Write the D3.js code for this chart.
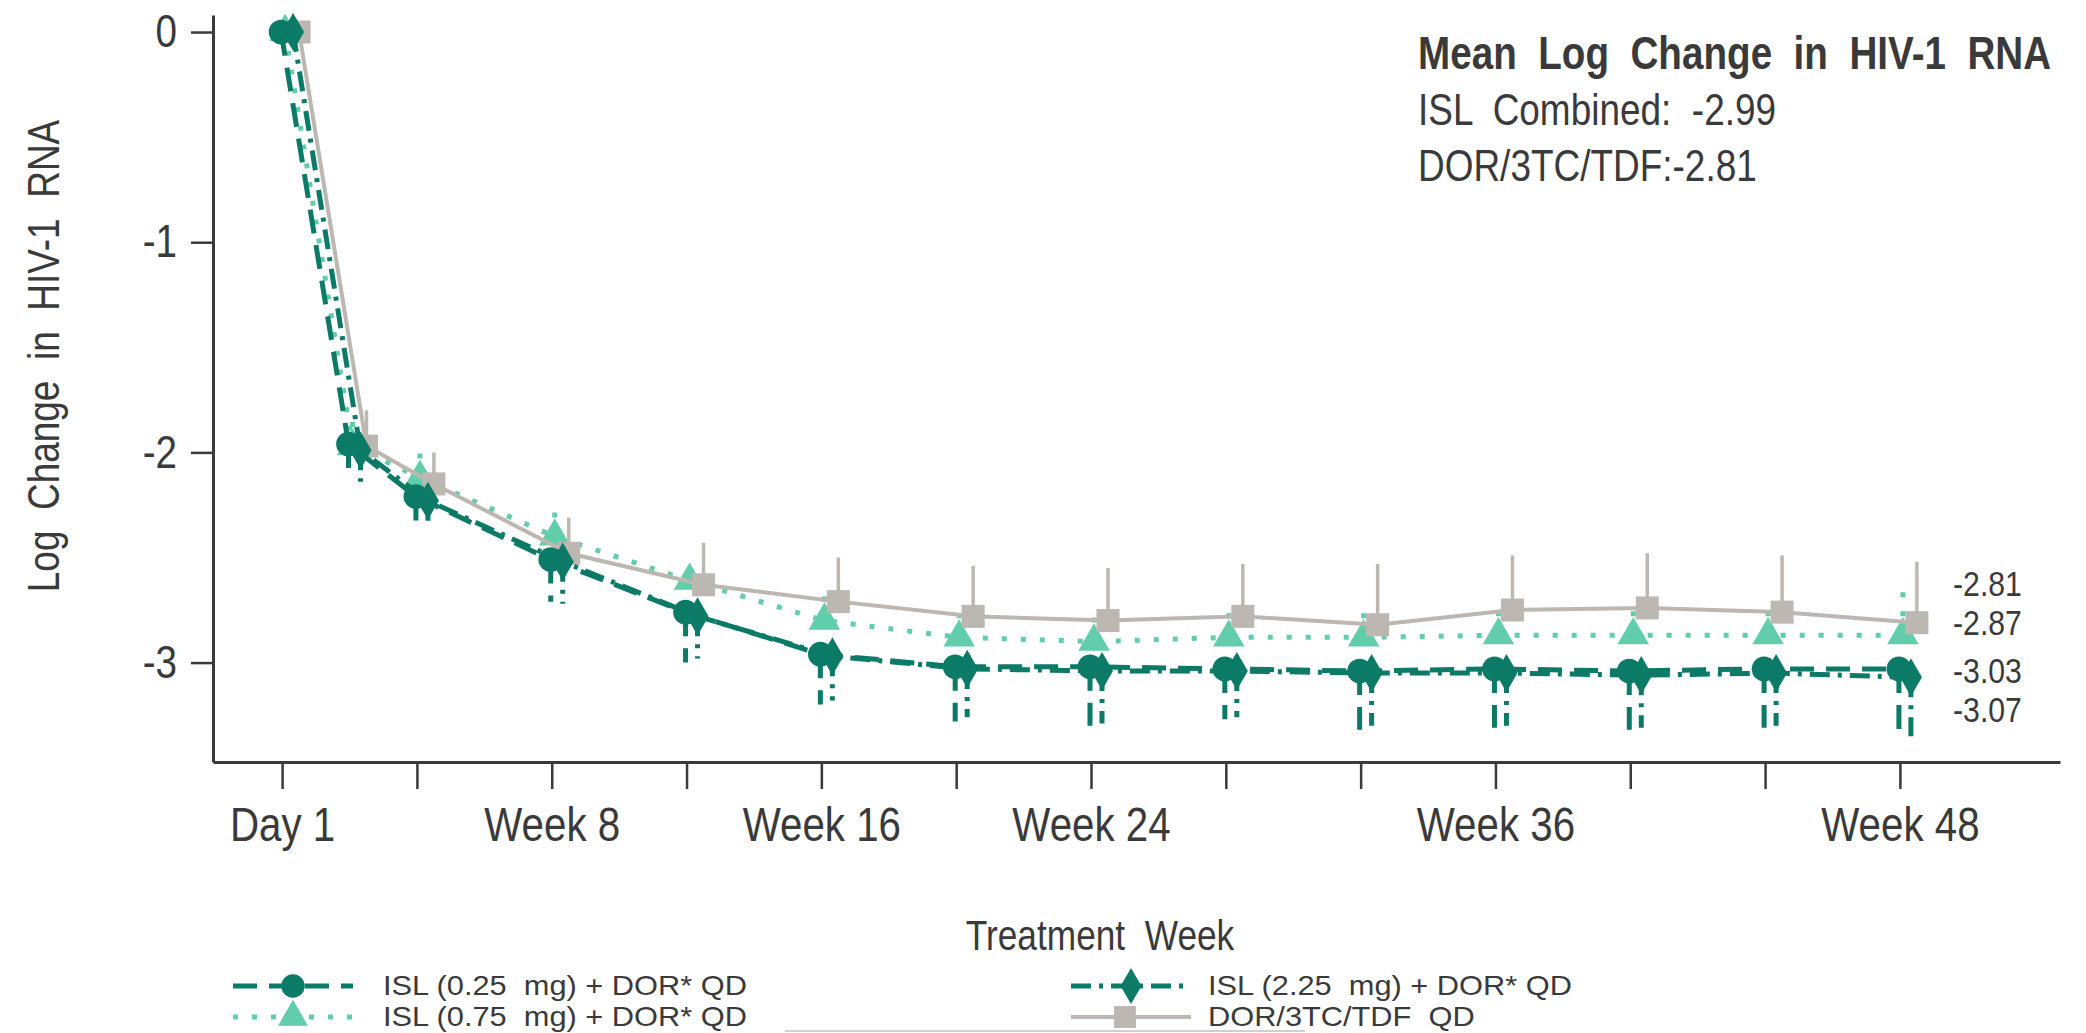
<!DOCTYPE html>
<html><head><meta charset="utf-8">
<script src="https://cdn.jsdelivr.net/npm/d3@7"></script>
<style>
html,body{margin:0;padding:0;background:#fff;}
svg{display:block;}
text{font-family:'Liberation Sans',Arial,sans-serif;fill:#3a3a3a;white-space:pre;}
</style></head><body>
<svg id="chart" width="2086" height="1033"></svg>
<script>
// ---- data ----
const weeks = [0, 2, 4, 8, 12, 16, 20, 24, 28, 32, 36, 40, 44, 48];
const tickWeeks = [0, 4, 8, 12, 16, 20, 24, 28, 32, 36, 40, 44, 48];
const tickLabels = ["Day 1", "", "Week 8", "", "Week 16", "", "Week 24", "", "", "Week 36", "", "", "Week 48"];
const yTicks = [0, -1, -2, -3];

const isl025      = [0, -1.96, -2.21, -2.51, -2.76, -2.96, -3.02, -3.02, -3.03, -3.04, -3.03, -3.04, -3.03, -3.03];
const isl025Lower = [0, -2.12, -2.35, -2.71, -3.00, -3.20, -3.28, -3.30, -3.27, -3.32, -3.31, -3.32, -3.31, -3.33];
const isl225      = [0, -1.99, -2.23, -2.52, -2.78, -2.97, -3.03, -3.04, -3.04, -3.05, -3.05, -3.06, -3.05, -3.07];
const isl225Lower = [0, -2.14, -2.36, -2.72, -2.98, -3.18, -3.26, -3.29, -3.26, -3.30, -3.30, -3.31, -3.30, -3.35];
const isl075      = [0, -1.97, -2.12, -2.40, -2.61, -2.80, -2.88, -2.90, -2.88, -2.88, -2.87, -2.87, -2.87, -2.87];
const isl075Upper = [0, -1.85, -1.98, -2.26, -2.52, -2.62, -2.71, -2.73, -2.71, -2.73, -2.69, -2.69, -2.70, -2.62];
const dor         = [0, -1.97, -2.15, -2.48, -2.63, -2.71, -2.78, -2.80, -2.78, -2.82, -2.75, -2.74, -2.76, -2.81];
const dorUpper    = [0, -1.80, -2.00, -2.31, -2.43, -2.50, -2.54, -2.55, -2.53, -2.53, -2.49, -2.48, -2.49, -2.52];

const seriesNames = ["ISL (0.25  mg) + DOR* QD", "ISL (0.75  mg) + DOR* QD", "ISL (2.25  mg) + DOR* QD", "DOR/3TC/TDF  QD"];
const annotTitle = "Mean  Log  Change  in  HIV-1  RNA";
const annotLines = ["ISL  Combined:  -2.99", "DOR/3TC/TDF:-2.81"];
const xTitle = "Treatment  Week";
const yTitle = "Log  Change  in  HIV-1  RNA";

// ---- styles ----
const DARK = "#0b7a66", LIGHT = "#62cdaa", GRAY = "#bdb7b1";
const series = [
  {key:"isl075", name:seriesNames[1], vals:isl075, bar:isl075Upper, color:LIGHT, dash:"5,14", sym:d3.symbolTriangle, size:430, dodge:3, lw:5},
  {key:"dor",    name:seriesNames[3], vals:dor,    bar:dorUpper,    color:GRAY,  dash:null,   sym:d3.symbolSquare,   size:530, dodge:17, lw:4},
  {key:"isl025", name:seriesNames[0], vals:isl025, bar:isl025Lower, color:DARK,  dash:"24,12", sym:d3.symbolCircle, size:480, dodge:-1, lw:5},
  {key:"isl225", name:seriesNames[2], vals:isl225, bar:isl225Lower, color:DARK,  dash:"20,8,4,8", sym:d3.symbolDiamond, size:420, dodge:11, lw:5}
];

const svg = d3.select("#chart");
const plot = {left:213, right:2060, top:15, bottom:762};
const NARROW = 0.84;

// condensed text helper: horizontal squeeze about the anchor point
function txt(parent, x, y, str, size, extra, sx) {
  return parent.append("text")
    .attr("transform", `translate(${x},${y}) ${extra||""} scale(${sx||NARROW},1)`)
    .attr("font-size", size).text(str);
}

const x = d3.scaleLinear().domain([-2.05, 52.75]).range([plot.left, plot.right]);
const y = d3.scaleLinear().domain([-3.473, 0.081]).range([plot.bottom, plot.top]);

// axes
const xAxis = svg.append("g").attr("transform", `translate(0,${plot.bottom})`)
  .call(d3.axisBottom(x).tickValues(tickWeeks).tickFormat((d,i)=>tickLabels[i]).tickSize(27).tickSizeOuter(0).tickPadding(18));
xAxis.select(".domain").attr("stroke", "#3a3a3a").attr("stroke-width", 3);
xAxis.selectAll(".tick line").attr("stroke", "#3a3a3a").attr("stroke-width", 2.5);
xAxis.selectAll(".tick text").attr("font-size", 48).attr("fill", "#3a3a3a")
  .attr("transform", `scale(${NARROW},1)`);

const yAxis = svg.append("g").attr("transform", `translate(${plot.left},0)`)
  .call(d3.axisLeft(y).tickValues(yTicks).tickFormat(d=>String(d)).tickSize(22).tickSizeOuter(0).tickPadding(14));
yAxis.select(".domain").attr("stroke", "#3a3a3a").attr("stroke-width", 3);
yAxis.selectAll(".tick line").attr("stroke", "#3a3a3a").attr("stroke-width", 2.5);
yAxis.selectAll(".tick text").attr("font-size", 46).attr("fill", "#3a3a3a")
  .attr("x", -36 / NARROW).attr("transform", `scale(${NARROW},1)`);
svg.selectAll("g").attr("font-family", null);

// titles
txt(svg, 1100, 950, xTitle, 42).attr("text-anchor", "middle");
txt(svg, 44, 356, yTitle, 44, "rotate(-90)").attr("text-anchor", "middle").attr("dominant-baseline", "central");

// series
const line = d3.line();
series.forEach(s => {
  const pts = weeks.map((w,i)=>({w, v:s.vals[i], b:s.bar[i]}));
  const g = svg.append("g");
  const px = d => x(d.w) + s.dodge;
  g.append("path").attr("d", line(pts.map(d=>[px(d), y(d.v)])))
    .attr("fill", "none").attr("stroke", s.color).attr("stroke-width", s.lw)
    .attr("stroke-dasharray", s.dash);
  g.selectAll("line.err").data(pts.filter(d=>d.w>0)).join("line").attr("class","err")
    .attr("x1", px).attr("x2", px).attr("y1", d=>y(d.v)).attr("y2", d=>y(d.b))
    .attr("stroke", s.color).attr("stroke-width", s.key==="dor"?3.5:5).attr("stroke-dasharray", s.dash);
  g.selectAll("path.m").data(pts).join("path").attr("class","m")
    .attr("transform", d=>`translate(${px(d)},${y(d.v)})`)
    .attr("d", d3.symbol().type(s.sym).size(s.size)).attr("fill", s.color);
});

// end labels
const endOrder = [dor, isl075, isl025, isl225];
const endNudge = [-39, -13, 2, 32];
const eg = svg.append("g");
endOrder.forEach((arr,i) => {
  const v = arr[arr.length-1];
  txt(eg, 1953, y(v) + endNudge[i], v.toFixed(2), 36).attr("dominant-baseline", "central");
});

// annotation
txt(svg, 1418, 69, annotTitle, 46).attr("font-weight", "bold");
annotLines.forEach((t,i)=>txt(svg, 1418, 125 + i*56, t, 44));

// legend
const legendPos = [
  {s:series[2], lx:233, rx:353, mx:293, tx:383, y:986},
  {s:series[0], lx:233, rx:353, mx:293, tx:383, y:1017},
  {s:series[3], lx:1071, rx:1191, mx:1131, tx:1208, y:986},
  {s:series[1], lx:1071, rx:1191, mx:1125, tx:1208, y:1017}
];
const lg = svg.append("g");
legendPos.forEach(p => {
  lg.append("line").attr("x1", p.lx).attr("x2", p.rx).attr("y1", p.y).attr("y2", p.y)
    .attr("stroke", p.s.color).attr("stroke-width", p.s.lw).attr("stroke-dasharray", p.s.dash);
  lg.append("path").attr("transform", `translate(${p.mx},${p.y})`)
    .attr("d", d3.symbol().type(p.s.sym).size(p.s.size*0.9)).attr("fill", p.s.color);
  txt(lg, p.tx, p.y, p.s.name, 27, "", 1.14).attr("dominant-baseline", "central");
});
lg.append("line").attr("x1", 785).attr("x2", 1305).attr("y1", 1031).attr("y2", 1031).attr("stroke", "#d0d0d0").attr("stroke-width", 2);
</script>
</body></html>
